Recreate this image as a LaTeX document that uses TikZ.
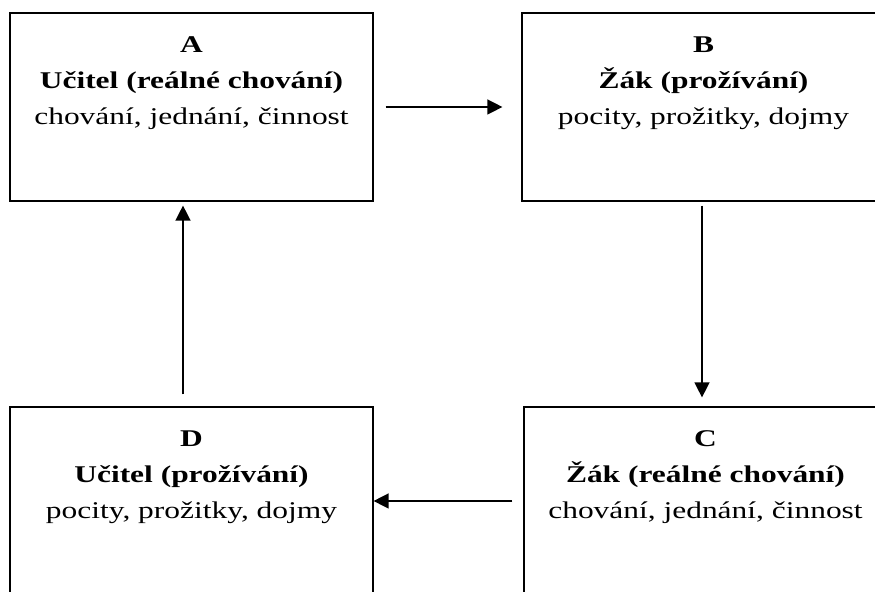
\documentclass[tikz,border=0pt]{standalone}
\usepackage{fontspec}
\setmainfont{Liberation Serif}[FakeStretch=1.31]
\usetikzlibrary{arrows.meta}

\begin{document}
\begin{tikzpicture}[x=0.5pt,y=-0.5pt,
  box/.style={draw, line width=0.6pt, minimum width=181.5pt, minimum height=94pt, inner sep=0pt},
  boxtext/.style={anchor=north, inner sep=0pt, align=center, font=\fontsize{12}{18}\selectfont},
  conn/.style={-{Triangle[length=7.5pt,width=7.5pt]}, line width=0.7pt}]

% velikost obrazku, okraje orizneme
\useasboundingbox (0,0) rectangle (875,592);
\clip (0,0) rectangle (875,592);

% ctyri ramecky
\node[box] (A) at (191.5,107) {};
\node[box] (B) at (703.5,107) {};
\node[box] (C) at (705.5,501) {};
\node[box] (D) at (191.5,501) {};

% texty v horni casti ramecku
\node[boxtext] (Atext) at ([yshift=-12pt]A.north)
  {\textbf{A}\\ \textbf{Učitel (reálné chování)}\\ chování, jednání, činnost};
\node[boxtext] (Btext) at ([yshift=-12pt]B.north)
  {\textbf{B}\\ \textbf{Žák (prožívání)}\\ pocity, prožitky, dojmy};
\node[boxtext] (Ctext) at ([yshift=-12pt]C.north)
  {\textbf{C}\\ \textbf{Žák (reálné chování)}\\ chování, jednání, činnost};
\node[boxtext] (Dtext) at ([yshift=-12pt]D.north)
  {\textbf{D}\\ \textbf{Učitel (prožívání)}\\ pocity, prožitky, dojmy};

% sipky dokola A -> B -> C -> D -> A
\draw[conn, shorten <=6pt, shorten >=9.5pt] (A.east) -- (B.west);
\draw[conn, shorten <=2pt, shorten >=4.5pt] ([xshift=-0.75pt]B.south) -- ([xshift=-0.75pt]B.south |- C.north);
\draw[conn, shorten <=5.5pt] (C.west) -- (D.east);
\draw[conn, shorten <=6pt, shorten >=2pt] ([xshift=-4.25pt]D.north) -- ([xshift=-4.25pt]A.south);

\end{tikzpicture}
\end{document}
